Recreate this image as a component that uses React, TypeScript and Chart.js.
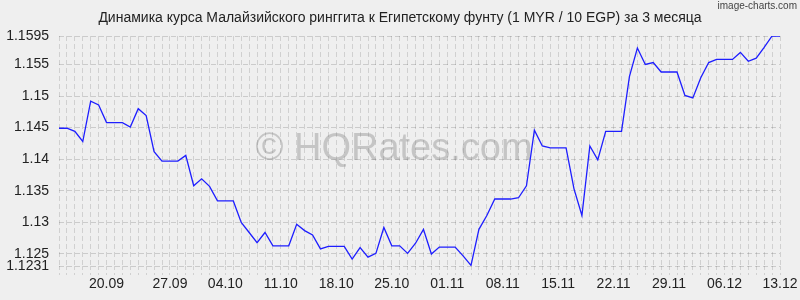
import React, { useEffect, useRef } from "react";
import { Chart, registerables } from "chart.js";

Chart.register(...registerables);

const rates: number[] = [
  1.1449, 1.1449, 1.1444, 1.1428, 1.1492, 1.1486, 1.1458, 1.1458, 1.1458, 1.1451,
  1.148, 1.1469, 1.1412, 1.1397, 1.1397, 1.1397, 1.1406, 1.1358, 1.1369, 1.1357,
  1.1334, 1.1334, 1.1334, 1.13, 1.1284, 1.1268, 1.1284, 1.1263, 1.1263, 1.1263,
  1.1297, 1.1287, 1.128, 1.1258, 1.1262, 1.1262, 1.1262, 1.1242, 1.126, 1.1245,
  1.1251, 1.1292, 1.1263, 1.1263, 1.1251, 1.1267, 1.1289, 1.125, 1.1261, 1.1261,
  1.1261, 1.1247, 1.1232, 1.1289, 1.1311, 1.1337, 1.1337, 1.1337, 1.1339, 1.1358,
  1.1446, 1.1421, 1.1418, 1.1418, 1.1418, 1.1353, 1.1311, 1.1421, 1.1399, 1.1444,
  1.1444, 1.1444, 1.1531, 1.1576, 1.155, 1.1553, 1.1538, 1.1538, 1.1538, 1.1501,
  1.1497, 1.1529, 1.1553, 1.1558, 1.1558, 1.1558, 1.1569, 1.1555, 1.156, 1.1577,
  1.1595, 1.1595,
];

const xTickIndex: number[] = [6, 14, 21, 28, 35, 42, 49, 56, 63, 70, 77, 84, 91];
const xTickText: string[] = [
  "20.09", "27.09", "04.10", "11.10", "18.10", "25.10", "01.11",
  "08.11", "15.11", "22.11", "29.11", "06.12", "13.12",
];
const yTicks: number[] = [1.1231, 1.125, 1.13, 1.135, 1.14, 1.145, 1.15, 1.155, 1.1595];

const titleText = "Динамика курса Малайзийского ринггита к Египетскому фунту (1 MYR / 10 EGP) за 3 месяца";
const FONT = '"Liberation Sans", Arial, sans-serif';
const BG = "#efefef";

export default function App() {
  const ref = useRef<HTMLCanvasElement | null>(null);

  useEffect(() => {
    document.body.style.margin = "0";
    document.body.style.background = BG;
    const canvas = ref.current;
    if (!canvas) return;

    const labels = rates.map((_, i) => {
      const k = xTickIndex.indexOf(i);
      return k >= 0 ? xTickText[k] : "";
    });

    const decor = {
      id: "decor",
      beforeDraw(chart: any) {
        const ctx = chart.ctx;
        ctx.save();
        ctx.fillStyle = BG;
        ctx.fillRect(0, 0, chart.width, chart.height);
        ctx.restore();
      },
      beforeDatasetsDraw(chart: any) {
        const ctx = chart.ctx;
        ctx.save();
        ctx.font = `38px ${FONT}`;
        ctx.fillStyle = "rgba(120,120,120,0.35)";
        ctx.textAlign = "center";
        ctx.textBaseline = "alphabetic";
        ctx.fillText("© HQRates.com", 394, 160);
        ctx.restore();
      },
      afterDraw(chart: any) {
        const ctx = chart.ctx;
        ctx.save();
        ctx.font = `14px ${FONT}`;
        ctx.fillStyle = "#222";
        ctx.textAlign = "center";
        ctx.textBaseline = "middle";
        ctx.fillText(titleText, 400, 18);
        ctx.font = `10px ${FONT}`;
        ctx.fillStyle = "#444";
        ctx.textAlign = "right";
        ctx.fillText("image-charts.com", 797, 6);
        ctx.restore();
      },
    };

    const chart = new Chart(canvas, {
      type: "line",
      data: {
        labels,
        datasets: [
          {
            data: rates,
            borderColor: "rgb(30,30,255)",
            borderWidth: 1.3,
            pointRadius: 0,
            tension: 0,
            fill: false,
          },
        ],
      },
      options: {
        responsive: false,
        animation: false,
        devicePixelRatio: 1,
        layout: { padding: { top: 36, right: 20, left: 0, bottom: 0 } },
        plugins: {
          legend: { display: false },
          title: { display: false },
          tooltip: { enabled: false },
        },
        scales: {
          x: {
            type: "category",
            offset: false,
            afterFit: (s: any) => {
              s.height = 34;
            },
            grid: {
              color: "rgba(0,0,0,0.13)",
              lineWidth: 1,
              tickLength: 9,
              tickColor: "rgba(0,0,0,0.13)",
              tickBorderDash: [4, 3],
            },
            border: { display: false, dash: [5, 3] },
            ticks: {
              autoSkip: false,
              maxRotation: 0,
              minRotation: 0,
              padding: 1,
              color: "#222",
              font: { family: FONT, size: 14 },
            },
          },
          y: {
            type: "linear",
            min: 1.1231,
            max: 1.1595,
            afterFit: (s: any) => {
              s.width = 59;
            },
            afterBuildTicks: (s: any) => {
              s.ticks = yTicks.map((v) => ({ value: v }));
            },
            grid: {
              color: "rgba(0,0,0,0.15)",
              lineWidth: 1,
              drawTicks: false,
            },
            border: { display: false, dash: [5, 3] },
            ticks: {
              autoSkip: false,
              padding: 10,
              color: "#222",
              font: { family: FONT, size: 14 },
              callback: (v: any) => String(v),
            },
          },
        },
      },
      plugins: [decor],
    });

    return () => chart.destroy();
  }, []);

  return (
    <div style={{ width: 800, height: 300 }}>
      <canvas ref={ref} width={800} height={300} style={{ display: "block" }} />
    </div>
  );
}
